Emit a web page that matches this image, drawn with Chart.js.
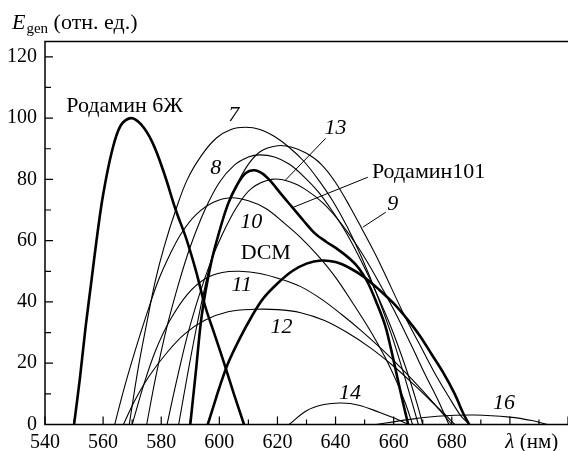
<!DOCTYPE html>
<html><head><meta charset="utf-8">
<script src="https://cdn.jsdelivr.net/npm/chart.js@4.4.0/dist/chart.umd.min.js"></script>
<style>html,body{margin:0;padding:0;background:#fff;overflow:hidden}canvas{display:block}</style>
</head><body>
<canvas id="c" width="568" height="451"></canvas>
<script>
// ---- tick labels ----
const xTickValues = [540,560,580,600,620,640,660,680,700];
const yTickValues = [0,20,40,60,80,100,120];
const xAxisName = 'λ';
const xAxisUnit = ' (нм)';
const yAxisName = 'E';
const yAxisSub = 'gen';
const yAxisUnit = ' (отн. ед.)';

// ---- series (wavelength nm, relative energy) ----
const rhodamine6G = [[550,0],[552,15],[554,32],[556,47],[558,62],[560,75],[563,89],[566,97.5],[569.5,100],[573,98],[577,92],[581,82],[585,70],[588.5,61],[592,50],[595,39],[598.5,29],[602,19],[605,10],[608.5,0]];
const rhodamine101 = [[590,0],[592,18],[594,36],[597,52],[600,63],[603,72],[606,78],[609,82],[612,83],[615,81.8],[618,79],[621,75.5],[625,71],[629,66.5],[633,62.3],[637,59.5],[641,57],[645,54],[648,51],[651,46.5],[654,40],[657,32.5],[659,25],[661,16.5],[663,8],[665,0]];
const dcm = [[596,0],[598,6],[600,12],[603,20],[607,28],[611,35],[615,41],[620,46],[625,50],[630,52.5],[635,53.5],[640,53],[645,51],[650,48],[655,44],[660,39.5],[665,34],[669,29],[673,23],[677,17],[681,10],[684,3.5],[686,0]];
const curve7 = [[569,0],[572,18],[575,33],[578,47],[581,58],[585,70],[589,80],[594,88],[599,93.5],[604,96.3],[609,97],[614,96.3],[619,94],[624,90.5],[629,86],[634,80],[639,73],[644,64.5],[649,54.5],[654,43],[659,30],[663,18],[667,5],[668.5,0]];
const curve8 = [[575,0],[578,15],[582,32],[586,46],[590,58],[595,70],[600,79],[605,84.5],[610,87.3],[614,88],[619,87.3],[624,85],[629,81],[634,76],[639,69.5],[644,62],[649,53],[654,43],[659,32],[664,19],[668,7],[670,0]];
const curve9 = [[586,0],[589,16],[592,31],[596,49],[600,63],[604,74],[609,83.5],[614,89],[620,91],[625,90.5],[630,88.5],[635,85],[640,79],[645,71],[649,64],[654,55],[659,45],[664,35],[669,26],[674,17],[679,9],[683,3],[686,0]];
const curve10 = [[564,0],[567,11],[571,24],[575,36],[579,47],[583,55.5],[587,62.5],[592,68.5],[598,72.5],[604,74],[610,73],[616,70.5],[622,66],[628,61],[634,55],[640,48],[646,39.5],[652,30.5],[657,22],[661,14],[664,7],[666.5,0]];
const curve11 = [[570,0],[574,13],[578,24],[583,34],[589,42.5],[595,47.5],[601,49.6],[607,50],[614,49.3],[621,47.5],[628,45],[635,41],[642,36],[649,30.5],[656,24.5],[663,18],[670,11],[676,4.5],[680,0]];
const curve12 = [[567,0],[571,8],[576,16],[582,23.5],[588,29.5],[595,34],[603,36.8],[612,37.6],[620,37.5],[628,36.5],[636,34],[644,30],[652,25],[660,19],[667,13],[673,7.5],[678,3],[681,0]];
const curve13 = [[582,0],[585,13],[589,29],[593,42],[597,53],[601,62],[606,71],[611,77],[618,80],[624,79.3],[630,76.5],[636,72],[642,65.5],[648,57.5],[654,48],[660,37.5],[666,26],[671,16],[675,8.5],[679,0]];
const curve14 = [[624,0],[630,4.5],[636,6.5],[642,7],[648,6.3],[655,4],[661,1.8],[665,0]];
const curve16 = [[654,0],[665,1.6],[675,2.7],[688,3.1],[700,2.4],[708,1.2],[713,0]];

const seriesNames = ['Родамин 6Ж','Родамин101','DCM','7','8','9','10','11','12','13','14','16'];
const seriesData = [rhodamine6G,rhodamine101,dcm,curve7,curve8,curve9,curve10,curve11,curve12,curve13,curve14,curve16];
const thickSeries = ['Родамин 6Ж','Родамин101','DCM'];

// ---- annotations (text labels and leader lines, in data coordinates) ----
const textLabels = [
  {t:'Родамин 6Ж', x:567.4, y:104, it:false, al:'center'},
  {t:'7', x:605, y:101, it:true, al:'center'},
  {t:'8', x:598.8, y:83.7, it:true, al:'center'},
  {t:'13', x:640, y:96.7, it:true, al:'center'},
  {t:'Родамин101', x:652.5, y:82.3, it:false, al:'left'},
  {t:'9', x:659.7, y:71.9, it:true, al:'center'},
  {t:'10', x:611, y:66, it:true, al:'center'},
  {t:'DCM', x:616, y:56, it:false, al:'center'},
  {t:'11', x:607.7, y:45.5, it:true, al:'center'},
  {t:'12', x:621.4, y:31.8, it:true, al:'center'},
  {t:'14', x:645, y:10.3, it:true, al:'center'},
  {t:'16', x:698, y:7, it:true, al:'center'}
];
const leaders = [
  [[636.6,93.4],[622.7,79.7]],
  [[651.1,80.7],[625.5,70.9]],
  [[657.3,69.3],[649.4,64.4]]
];

const FONT = "'Liberation Serif', 'Times New Roman', serif";

const decor = {
  id:'decor',
  afterDraw(chart){
    const ctx = chart.ctx, a = chart.chartArea;
    const xs = chart.scales.x, ys = chart.scales.y;
    ctx.save();
    ctx.strokeStyle = '#000'; ctx.fillStyle = '#000';
    ctx.lineWidth = 1.5;
    ctx.beginPath();
    ctx.moveTo(a.right, a.top); ctx.lineTo(a.left, a.top); ctx.lineTo(a.left, a.bottom); ctx.lineTo(a.right, a.bottom);
    ctx.stroke();
    ctx.lineWidth = 1.2;
    ctx.beginPath();
    for (let v = xs.min; v <= xs.max; v += 10) {
      const px = xs.getPixelForValue(v);
      const len = (v % 20 === 0) ? 8 : 5;
      ctx.moveTo(px, a.bottom); ctx.lineTo(px, a.bottom - len);
    }
    for (let v = 0; v <= ys.max; v += 10) {
      const py = ys.getPixelForValue(v);
      const len = (v % 20 === 0) ? 8 : 6;
      ctx.moveTo(a.left, py); ctx.lineTo(a.left + len, py);
    }
    ctx.stroke();
    ctx.lineWidth = 1;
    ctx.beginPath();
    leaders.forEach(l => {
      ctx.moveTo(xs.getPixelForValue(l[0][0]), ys.getPixelForValue(l[0][1]));
      ctx.lineTo(xs.getPixelForValue(l[1][0]), ys.getPixelForValue(l[1][1]));
    });
    ctx.stroke();
    ctx.textBaseline = 'middle';
    textLabels.forEach(l => {
      ctx.font = (l.it ? 'italic ' : '') + '22px ' + FONT;
      ctx.textAlign = l.al;
      ctx.fillText(l.t, xs.getPixelForValue(l.x), ys.getPixelForValue(l.y));
    });
    const px700 = xs.getPixelForValue(xTickValues[xTickValues.length-1]);
    ctx.textAlign = 'left'; ctx.textBaseline = 'alphabetic';
    ctx.font = 'italic 21px ' + FONT;
    const lw = ctx.measureText(xAxisName).width;
    ctx.fillText(xAxisName, px700 - lw/2, 448);
    ctx.font = '21px ' + FONT;
    ctx.fillText(xAxisUnit, px700 + lw/2, 448);
    ctx.font = 'italic 22px ' + FONT;
    ctx.fillText(yAxisName, 12, 29);
    const ew = ctx.measureText(yAxisName).width;
    ctx.font = '15px ' + FONT;
    ctx.fillText(yAxisSub, 12 + ew + 1, 33);
    const sw = ctx.measureText(yAxisSub).width;
    ctx.font = '22px ' + FONT;
    ctx.fillText(yAxisUnit, 12 + ew + 1 + sw, 29);
    ctx.restore();
  }
};

new Chart(document.getElementById('c'), {
  type: 'scatter',
  data: {
    datasets: seriesData.map((d, i) => ({
      label: seriesNames[i],
      data: d.map(p => ({x:p[0], y:p[1]})),
      showLine: true,
      borderColor: '#000',
      backgroundColor: '#000',
      borderWidth: thickSeries.includes(seriesNames[i]) ? 2.6 : 1.1,
      pointRadius: 0,
      tension: 0.35,
      fill: false
    }))
  },
  options: {
    responsive: false,
    devicePixelRatio: 1,
    animation: false,
    layout: {padding: {top: 41.5, right: 0, left: 0, bottom: 0}},
    plugins: {legend: {display:false}, tooltip: {enabled:false}},
    scales: {
      x: {
        type: 'linear', min: 540, max: 720,
        grid: {display:false, drawTicks:false},
        border: {display:false},
        afterFit: s => { s.height = 26.5; },
        afterBuildTicks: s => { s.ticks = xTickValues.map(v => ({value:v})); },
        ticks: {
          autoSkip:false, maxRotation:0, padding: 6, color:'#000',
          font: {family: FONT, size: 20},
          callback: v => (v === xTickValues[xTickValues.length-1] ? '' : String(v))
        }
      },
      y: {
        type: 'linear', min: 0, max: 125,
        grid: {display:false, drawTicks:false},
        border: {display:false},
        afterFit: s => { s.width = 45; },
        afterBuildTicks: s => { s.ticks = yTickValues.map(v => ({value:v})); },
        ticks: {
          autoSkip:false, padding: 8, color:'#000',
          font: {family: FONT, size: 20}
        }
      }
    }
  },
  plugins: [decor]
});
</script>
</body></html>
